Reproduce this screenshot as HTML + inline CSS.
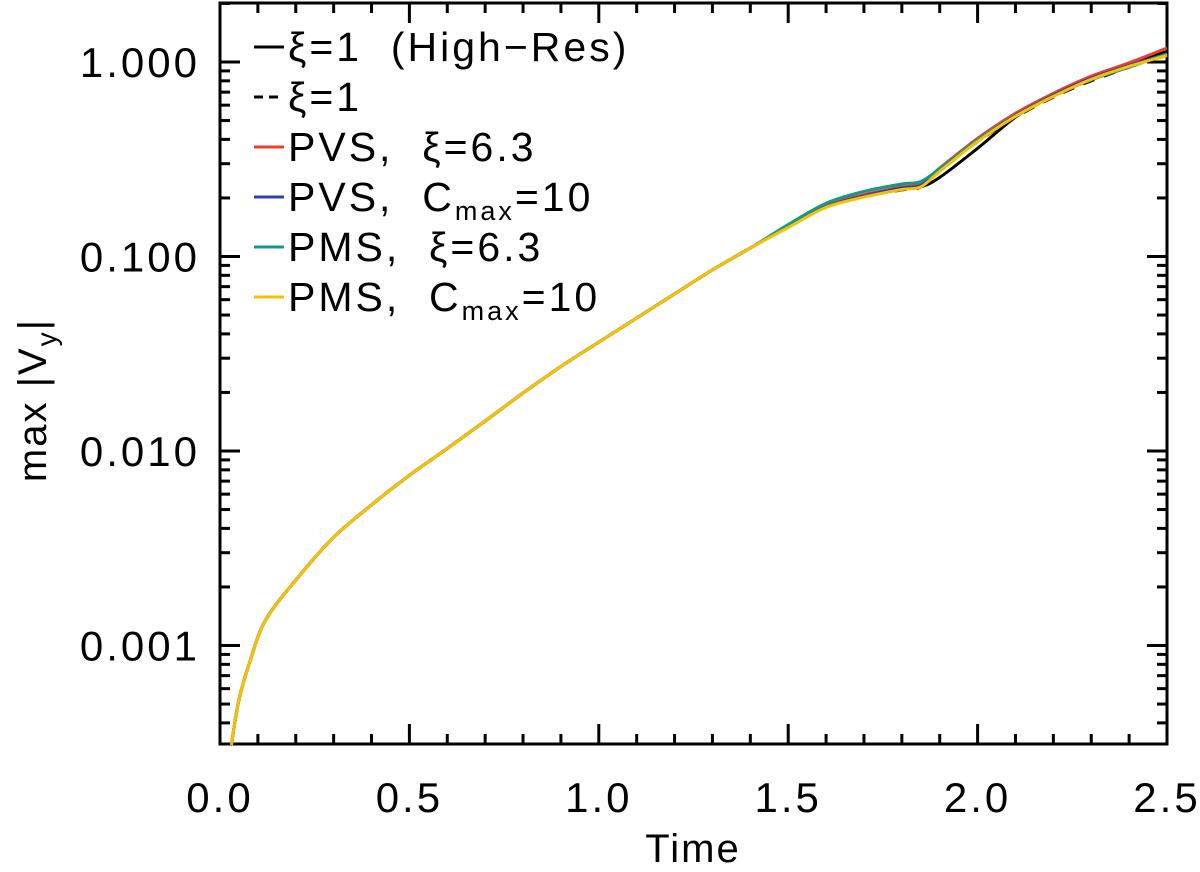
<!DOCTYPE html>
<html><head><meta charset="utf-8"><style>
body{margin:0;background:#fff}
svg text{font-family:"Liberation Sans","DejaVu Sans",sans-serif;fill:#000}
</style></head><body>
<svg id="c" width="1200" height="867" xmlns="http://www.w3.org/2000/svg"></svg>
<script>
const times=[0.03,0.05,0.08,0.12,0.2,0.3,0.4,0.5,0.6,0.7,0.8,0.9,1.0,1.1,1.2,1.3,1.4,1.5,1.6,1.7,1.8,1.85,1.9,2.0,2.1,2.2,2.3,2.4,2.5];
const early=[3.08e-4,5.25e-4,8.4e-4,1.35e-3,2.17e-3,3.6e-3,5.28e-3,7.5e-3,0.0103,0.01426,0.01986,0.0272,0.0363,0.0483,0.0642,0.0853,0.1106];
const hiRes=early.concat([0.142,0.180,0.205,0.222,0.228,0.255,0.36,0.52,0.68,0.84,0.98,1.13]);
const dashed=early.concat([0.142,0.180,0.204,0.22,0.228,0.28,0.39,0.52,0.66,0.80,0.94,1.10]);
const pvsXi=early.concat([0.143,0.182,0.208,0.228,0.236,0.285,0.405,0.545,0.69,0.845,0.99,1.18]);
const pvsC=early.concat([0.142,0.180,0.205,0.225,0.232,0.278,0.395,0.532,0.675,0.825,0.96,1.10]);
const pmsXi=early.concat([0.146,0.188,0.216,0.236,0.243,0.283,0.398,0.53,0.67,0.81,0.94,1.10]);
const pmsC=early.concat([0.141,0.179,0.202,0.221,0.228,0.274,0.39,0.525,0.665,0.815,0.95,1.08]);
const xTicks=["0.0","0.5","1.0","1.5","2.0","2.5"];
const yTicks=["0.001","0.010","0.100","1.000"];
const L=220,R=1167,T=3,B=744;
const xs=t=>L+t*(R-L)/2.5;
const ys=v=>62-Math.log10(v)*194.5;
const svg=document.getElementById('c');const NS="http://www.w3.org/2000/svg";
function mk(tag,a,p){const e=document.createElementNS(NS,tag);for(const k in a)e.setAttribute(k,a[k]);(p||svg).appendChild(e);return e;}
for(let i=0;i<=25;i++){const x=xs(i/10);const len=i%5==0?20:10;
 const t1=mk('line',{x1:x,x2:x,y1:B,y2:B-len,stroke:'#000','stroke-width':3});
 
 const t2=mk('line',{x1:x,x2:x,y1:T,y2:T+len,stroke:'#000','stroke-width':3});
 }
xTicks.forEach((s,i)=>{const e=mk('text',{x:xs(i*0.5),y:812,'font-size':42,'text-anchor':'middle','letter-spacing':3});e.textContent=s;
 });
for(let d=-4;d<=0;d++)for(let m=1;m<=9;m++){const v=m*Math.pow(10,d);const y=ys(v);if(y<T||y>B)continue;const len=m==1?20:10;
 const a=mk('line',{x1:L,x2:L+len,y1:y,y2:y,stroke:'#000','stroke-width':3});
 
 const b=mk('line',{x1:R,x2:R-len,y1:y,y2:y,stroke:'#000','stroke-width':3});
 }
yTicks.forEach((s,i)=>{const e=mk('text',{x:200,y:ys(Math.pow(10,i-3))+15,'font-size':42,'text-anchor':'end','letter-spacing':3});e.textContent=s;
 });
const fr=mk('rect',{x:L,y:T,width:R-L,height:B-T,fill:'none',stroke:'#000','stroke-width':3});

const xt=mk('text',{x:693,y:862,'font-size':40,'text-anchor':'middle','letter-spacing':2});xt.textContent='Time';

const yt=mk('text',{x:0,y:0,'font-size':40,'text-anchor':'middle','letter-spacing':2,transform:'translate(46,400) rotate(-90)'});
yt.innerHTML='max  |V<tspan font-size="28" dy="10">y</tspan><tspan dy="-10">|</tspan>';

const series=[
 {d:hiRes,c:'#000',dash:'',n:'series-xi1-highres'},
 {d:dashed,c:'#000',dash:'12 10',n:'series-xi1'},
 {d:pvsXi,c:'#f03c2c',dash:'',n:'series-pvs-xi'},
 {d:pvsC,c:'#2e3fb0',dash:'',n:'series-pvs-cmax'},
 {d:pmsXi,c:'#109a88',dash:'',n:'series-pms-xi'},
 {d:pmsC,c:'#f8c000',dash:'',n:'series-pms-cmax'}];
function smooth(pts){let d='M'+pts[0][0].toFixed(1)+','+pts[0][1].toFixed(1);
 for(let i=0;i<pts.length-1;i++){const p0=pts[Math.max(i-1,0)],p1=pts[i],p2=pts[i+1],p3=pts[Math.min(i+2,pts.length-1)];
  const c1=[p1[0]+(p2[0]-p0[0])/6,p1[1]+(p2[1]-p0[1])/6],c2=[p2[0]-(p3[0]-p1[0])/6,p2[1]-(p3[1]-p1[1])/6];
  d+=' C'+c1.map(v=>v.toFixed(1))+' '+c2.map(v=>v.toFixed(1))+' '+p2.map(v=>v.toFixed(1));}
 return d;}
series.forEach(s=>{const pts=s.d.map((v,i)=>[xs(times[i]),ys(v)]);
 const e=mk('path',{d:smooth(pts),fill:'none',stroke:s.c,'stroke-width':3,'stroke-dasharray':s.dash,'stroke-linejoin':'round'});
 });
const labels=['ξ=1  (High−Res)','ξ=1','PVS,  ξ=6.3','PVS,  C<tspan font-size="27" dy="9">max</tspan><tspan dy="-9">=10</tspan>','PMS,  ξ=6.3','PMS,  C<tspan font-size="27" dy="9">max</tspan><tspan dy="-9">=10</tspan>'];
labels.forEach((h,i)=>{const y=47+i*50;const s=series[i];
 const g=mk('g',{});
 mk('line',{x1:254,x2:284,y1:y,y2:y,stroke:s.c,'stroke-width':3,'stroke-dasharray':s.dash?'9 6':''},g);
 const t=mk('text',{x:288,y:y+14,'font-size':41,'letter-spacing':3,'xml:space':'preserve'},g);t.setAttribute('style','white-space:pre');t.innerHTML=h;});
</script>
</body></html>
